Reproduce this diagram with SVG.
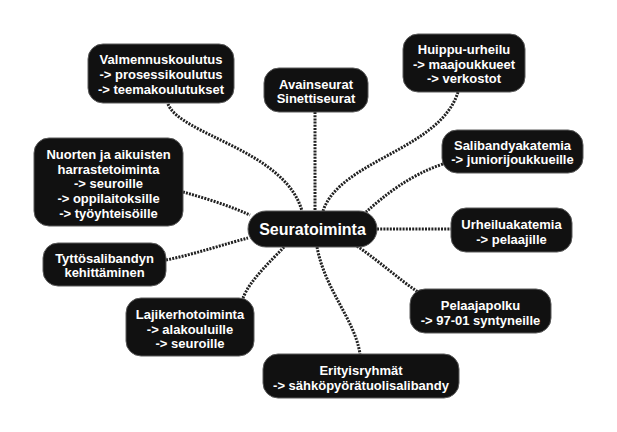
<svg xmlns="http://www.w3.org/2000/svg" width="617" height="432" viewBox="0 0 617 432">
<style>
.box{fill:#111;stroke:#5a5a5a;stroke-width:1}
.t{fill:#fff;font-family:"Liberation Sans",Arial,sans-serif;font-weight:bold;font-size:13px;text-anchor:middle}
.tc{font-size:16px}
.c{fill:none;stroke:#222;stroke-width:3;stroke-dasharray:2 1.2}
</style>
<rect width="617" height="432" fill="#fff"/>
<g id="connectors">
<path class="c" d="M168,104 C180,135 285,150 302,211"/>
<path class="c" d="M315,112 L315,211"/>
<path class="c" d="M458,92 C440,150 340,160 323,211"/>
<path class="c" d="M443,164 C410,175 385,195 366,212"/>
<path class="c" d="M377,229 L451,229"/>
<path class="c" d="M357,246 C380,262 400,280 418,292"/>
<path class="c" d="M317,247 C325,290 355,320 360,354"/>
<path class="c" d="M284,247 C270,262 250,280 243,298"/>
<path class="c" d="M166,260 C195,254 225,244 248,238"/>
<path class="c" d="M183,192 C205,198 230,206 250,215"/>
</g>
<g id="seuratoiminta">
<rect class="box" x="248" y="211" width="129" height="36" rx="18"/>
<text class="t tc" x="312.5" y="235">Seuratoiminta</text>
</g>
<g id="valmennuskoulutus">
<rect class="box" x="88" y="44" width="146" height="59" rx="15"/>
<text class="t" x="161" y="64">Valmennuskoulutus</text>
<text class="t" x="161" y="79">-&gt; prosessikoulutus</text>
<text class="t" x="161" y="94">-&gt; teemakoulutukset</text>
</g>
<g id="avainseurat">
<rect class="box" x="264" y="68" width="104" height="44" rx="15"/>
<text class="t" x="316" y="88.5">Avainseurat</text>
<text class="t" x="316" y="103">Sinettiseurat</text>
</g>
<g id="huippu">
<rect class="box" x="403" y="34" width="122" height="58" rx="15"/>
<text class="t" x="464" y="54">Huippu-urheilu</text>
<text class="t" x="464" y="68.5">-&gt; maajoukkueet</text>
<text class="t" x="464" y="83">-&gt; verkostot</text>
</g>
<g id="salibandyakatemia">
<rect class="box" x="442" y="130" width="141" height="43" rx="15"/>
<text class="t" x="512.5" y="150">Salibandyakatemia</text>
<text class="t" x="512.5" y="164">-&gt; juniorijoukkueille</text>
</g>
<g id="nuorten">
<rect class="box" x="34" y="138" width="149" height="88" rx="15"/>
<text class="t" x="108.5" y="159">Nuorten ja aikuisten</text>
<text class="t" x="108.5" y="173.5">harrastetoiminta</text>
<text class="t" x="108.5" y="188">-&gt; seuroille</text>
<text class="t" x="108.5" y="203">-&gt; oppilaitoksille</text>
<text class="t" x="108.5" y="218">-&gt; työyhteisöille</text>
</g>
<g id="tyttosalibandy">
<rect class="box" x="43" y="243" width="123" height="43" rx="15"/>
<text class="t" x="104.5" y="262.5">Tyttösalibandyn</text>
<text class="t" x="104.5" y="277">kehittäminen</text>
</g>
<g id="lajikerhotoiminta">
<rect class="box" x="126" y="298" width="128" height="58" rx="15"/>
<text class="t" x="190" y="319">Lajikerhotoiminta</text>
<text class="t" x="190" y="333.5">-&gt; alakouluille</text>
<text class="t" x="190" y="348">-&gt; seuroille</text>
</g>
<g id="erityisryhmat">
<rect class="box" x="263" y="354" width="196" height="44" rx="15"/>
<text class="t" x="361" y="375">Erityisryhmät</text>
<text class="t" x="361" y="390">-&gt; sähköpyörätuolisalibandy</text>
</g>
<g id="urheiluakatemia">
<rect class="box" x="451" y="208" width="121" height="44" rx="15"/>
<text class="t" x="511.5" y="229">Urheiluakatemia</text>
<text class="t" x="511.5" y="244">-&gt; pelaajille</text>
</g>
<g id="pelaajapolku">
<rect class="box" x="410" y="289" width="141" height="44" rx="15"/>
<text class="t" x="480.5" y="310">Pelaajapolku</text>
<text class="t" x="480.5" y="325">-&gt; 97-01 syntyneille</text>
</g>
</svg>
